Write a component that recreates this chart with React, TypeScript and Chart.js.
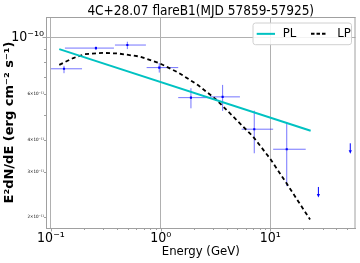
import React, { useEffect, useRef } from 'react';
import { Chart, registerables } from 'chart.js';

Chart.register(...registerables);

const TITLE = '4C+28.07 flareB1(MJD 57859-57925)';
const X_TITLE = 'Energy (GeV)';
const Y_TITLE = 'E²dN/dE (erg cm⁻² s⁻¹)';

// SED points (GeV, erg cm^-2 s^-1)
const energy = [0.1315, 0.257, 0.497, 0.971, 1.888, 3.67, 7.13, 14.1];
const energyLo = [0.1, 0.134, 0.383, 0.745, 1.445, 2.81, 5.47, 10.6];
const energyHi = [0.192, 0.375, 0.734, 1.445, 2.81, 5.28, 10.6, 21.0];
const flux = [7.53e-11, 9.06e-11, 9.31e-11, 7.61e-11, 5.82e-11, 5.86e-11, 4.39e-11, 3.67e-11];
const fluxLo = [7.24e-11, 8.9e-11, 8.98e-11, 7.28e-11, 5.29e-11, 5.17e-11, 3.54e-11, 2.64e-11];
const fluxHi = [7.73e-11, 9.2e-11, 9.59e-11, 7.92e-11, 6.33e-11, 6.52e-11, 5.18e-11, 4.67e-11];

// upper limits
const ulEnergy = [27.4, 53.5];
const ulFlux = [2.62e-11, 3.87e-11];

// power-law model
const plEnergy = [0.119, 23.3];
const plFlux = [8.98e-11, 4.33e-11];

// log-parabola model
const lpEnergy = [0.119, 0.16, 0.204, 0.3, 0.411, 0.648, 0.971, 1.447, 2.2, 3.24, 4.59, 6.98, 9.92, 14.1, 23.0];
const lpFlux = [7.8e-11, 8.29e-11, 8.59e-11, 8.68e-11, 8.63e-11, 8.4e-11, 7.92e-11, 7.28e-11, 6.5e-11, 5.7e-11, 4.91e-11, 4.1e-11, 3.38e-11, 2.7e-11, 1.96e-11];

// ticks
const xTickValues = [0.1, 0.2, 0.3, 0.4, 0.5, 0.6, 0.7, 0.8, 0.9, 1, 2, 3, 4, 5, 6, 7, 8, 9, 10, 20, 30, 40, 50];
const xTickLabels = ['10⁻¹', '', '', '', '', '', '', '', '', '10⁰', '', '', '', '', '', '', '', '', '10¹', '', '', '', ''];
const yTickValues = [2e-11, 3e-11, 4e-11, 5e-11, 6e-11, 7e-11, 8e-11, 9e-11, 1e-10];
const yTickLabels = ['2×10⁻¹¹', '3×10⁻¹¹', '4×10⁻¹¹', '', '6×10⁻¹¹', '', '', '', '10⁻¹⁰'];
const yMajorIndex = 8;

const X_MIN = 0.0901;
const X_MAX = 59.7;
const Y_MIN = 1.816e-11;
const Y_MAX = 1.196e-10;

const NARROW = "'Liberation Sans Narrow', 'DejaVu Sans Condensed', 'DejaVu Sans', sans-serif";
const PL_COLOR = '#00c2c2';
const PT_COLOR = '#0000ff';
const GRID = '#b0b0b0';
const SPINE = '#a0a0a0';

const overlay = {
  id: 'overlay',
  beforeDatasetsDraw(chart: any) {
    const { ctx } = chart;
    const x = chart.scales.x;
    const y = chart.scales.y;
    ctx.save();
    ctx.strokeStyle = 'rgba(0,0,255,0.55)';
    ctx.lineWidth = 1;
    for (let i = 0; i < energy.length; i++) {
      const px = x.getPixelForValue(energy[i]);
      const py = y.getPixelForValue(flux[i]);
      ctx.beginPath();
      ctx.moveTo(x.getPixelForValue(energyLo[i]), py);
      ctx.lineTo(x.getPixelForValue(energyHi[i]), py);
      ctx.moveTo(px, y.getPixelForValue(fluxLo[i]));
      ctx.lineTo(px, y.getPixelForValue(fluxHi[i]));
      ctx.stroke();
    }
    // upper limit arrows
    ctx.strokeStyle = PT_COLOR;
    ctx.fillStyle = PT_COLOR;
    for (let i = 0; i < ulEnergy.length; i++) {
      const px = x.getPixelForValue(ulEnergy[i]);
      const py = y.getPixelForValue(ulFlux[i]);
      ctx.beginPath();
      ctx.moveTo(px, py);
      ctx.lineTo(px, py + 7.5);
      ctx.stroke();
      ctx.beginPath();
      ctx.moveTo(px - 1.6, py + 7);
      ctx.lineTo(px + 1.6, py + 7);
      ctx.lineTo(px, py + 10.5);
      ctx.closePath();
      ctx.fill();
    }
    ctx.restore();
  },
  afterDraw(chart: any) {
    const { ctx, chartArea: a } = chart;
    const x = chart.scales.x;
    const y = chart.scales.y;
    ctx.save();
    // top & right spines
    ctx.strokeStyle = SPINE;
    ctx.lineWidth = 1;
    ctx.beginPath();
    ctx.moveTo(a.left, a.top + 0.5);
    ctx.lineTo(a.right, a.top + 0.5);
    ctx.moveTo(a.right - 0.5, a.top);
    ctx.lineTo(a.right - 0.5, a.bottom);
    ctx.stroke();
    // tick marks
    ctx.beginPath();
    xTickValues.forEach((v, i) => {
      const px = Math.round(x.getPixelForValue(v)) + 0.5;
      const len = xTickLabels[i] ? 3.5 : 2;
      ctx.moveTo(px, a.bottom);
      ctx.lineTo(px, a.bottom + len);
    });
    yTickValues.forEach((v, i) => {
      const py = Math.round(y.getPixelForValue(v)) + 0.5;
      const len = i === yMajorIndex ? 3.5 : 2;
      ctx.moveTo(a.left, py);
      ctx.lineTo(a.left - len, py);
    });
    ctx.stroke();

    // legend
    const bw = 98.5;
    const bh = 21.7;
    const bx = a.right - 4 - bw;
    const by = a.top + 6;
    const r = 2.5;
    ctx.beginPath();
    ctx.moveTo(bx + r, by);
    ctx.lineTo(bx + bw - r, by);
    ctx.quadraticCurveTo(bx + bw, by, bx + bw, by + r);
    ctx.lineTo(bx + bw, by + bh - r);
    ctx.quadraticCurveTo(bx + bw, by + bh, bx + bw - r, by + bh);
    ctx.lineTo(bx + r, by + bh);
    ctx.quadraticCurveTo(bx, by + bh, bx, by + bh - r);
    ctx.lineTo(bx, by + r);
    ctx.quadraticCurveTo(bx, by, bx + r, by);
    ctx.closePath();
    ctx.fillStyle = 'rgba(255,255,255,0.85)';
    ctx.fill();
    ctx.strokeStyle = '#d0d0d0';
    ctx.stroke();
    const ly = by + bh / 2;
    ctx.lineWidth = 2;
    ctx.strokeStyle = PL_COLOR;
    ctx.beginPath();
    ctx.moveTo(bx + 3.7, ly);
    ctx.lineTo(bx + 22, ly);
    ctx.stroke();
    ctx.strokeStyle = '#000';
    ctx.setLineDash([3.5, 2]);
    ctx.beginPath();
    ctx.moveTo(bx + 58, ly);
    ctx.lineTo(bx + 74, ly);
    ctx.stroke();
    ctx.setLineDash([]);
    ctx.fillStyle = '#000';
    ctx.font = `13px ${NARROW}`;
    ctx.textBaseline = 'middle';
    ctx.textAlign = 'left';
    ctx.fillText('PL', bx + 29.7, ly);
    ctx.fillText('LP', bx + 84.3, ly);

    // title
    ctx.font = `13.5px ${NARROW}`;
    ctx.textAlign = 'center';
    ctx.textBaseline = 'alphabetic';
    ctx.fillText(TITLE, (a.left + a.right) / 2, 15);
    ctx.restore();
  },
};

export default function App() {
  const ref = useRef<HTMLCanvasElement | null>(null);
  useEffect(() => {
    if (!ref.current) return;
    const chart = new Chart(ref.current, {
      type: 'scatter',
      data: {
        datasets: [
          {
            label: 'PL',
            data: plEnergy.map((e, i) => ({ x: e, y: plFlux[i] })),
            showLine: true,
            borderColor: PL_COLOR,
            borderWidth: 2,
            pointRadius: 0,
            fill: false,
          },
          {
            label: 'LP',
            data: lpEnergy.map((e, i) => ({ x: e, y: lpFlux[i] })),
            showLine: true,
            borderColor: '#000000',
            borderWidth: 1.8,
            borderDash: [4, 3],
            pointRadius: 0,
            fill: false,
          },
          {
            label: 'data',
            data: energy.map((e, i) => ({ x: e, y: flux[i] })),
            showLine: false,
            pointStyle: 'rect',
            pointRadius: 1.5,
            pointBackgroundColor: PT_COLOR,
            pointBorderColor: PT_COLOR,
            pointBorderWidth: 0,
          },
        ],
      },
      options: {
        animation: false,
        responsive: false,
        devicePixelRatio: 1,
        layout: { padding: { top: 17, right: 4.5, left: 0, bottom: 0 } },
        plugins: {
          legend: { display: false },
          title: { display: false },
          tooltip: { enabled: false },
        },
        scales: {
          x: {
            type: 'logarithmic',
            min: X_MIN,
            max: X_MAX,
            afterBuildTicks: (s: any) => {
              s.ticks = xTickValues.map((v) => ({ value: v }));
            },
            afterFit: (s: any) => {
              s.height = 35;
            },
            ticks: {
              autoSkip: false,
              maxRotation: 0,
              padding: 2,
              color: '#000',
              font: { size: 14, family: NARROW },
              callback: (_v: any, i: number) => xTickLabels[i],
            },
            grid: {
              drawTicks: false,
              lineWidth: 1,
              color: (c: any) => (xTickLabels[c.index] ? GRID : 'rgba(0,0,0,0)'),
            },
            border: { display: true, color: SPINE, width: 1 },
            title: {
              display: true,
              text: X_TITLE,
              color: '#000',
              font: { size: 13, family: NARROW },
              padding: { top: 0, bottom: 4 },
            },
          },
          y: {
            type: 'logarithmic',
            min: Y_MIN,
            max: Y_MAX,
            afterBuildTicks: (s: any) => {
              s.ticks = yTickValues.map((v) => ({ value: v }));
            },
            afterFit: (s: any) => {
              s.width = 46;
            },
            ticks: {
              autoSkip: false,
              padding: 2,
              color: '#000',
              font: (c: any) => ({ size: c.index === yMajorIndex ? 14 : 4.5, family: NARROW }),
              callback: (_v: any, i: number) => yTickLabels[i],
            },
            grid: {
              drawTicks: false,
              lineWidth: 1,
              color: (c: any) => (c.index === yMajorIndex ? GRID : 'rgba(0,0,0,0)'),
            },
            border: { display: true, color: SPINE, width: 1 },
            title: {
              display: true,
              text: Y_TITLE,
              color: '#000',
              font: { size: 13, weight: 'bold', family: "'DejaVu Sans', sans-serif" },
              padding: { top: 2, bottom: 0 },
            },
          },
        },
      },
      plugins: [overlay],
    } as any);
    return () => chart.destroy();
  }, []);
  return (
    <div style={{ position: 'absolute', left: 0, top: 0, width: 360, height: 263 }}>
      <canvas ref={ref} width={360} height={263} />
    </div>
  );
}
